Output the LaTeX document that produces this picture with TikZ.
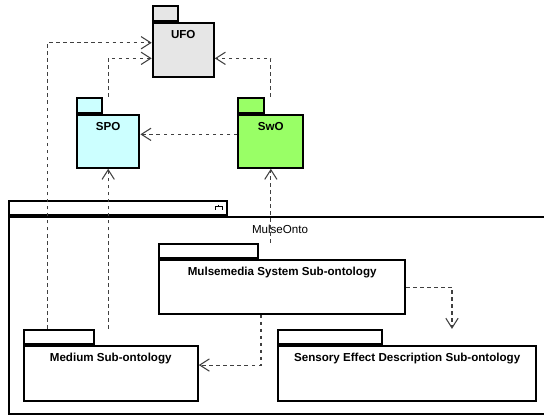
\documentclass[tikz,border=0pt]{standalone}
\usepackage{fontspec}
\setmainfont{Liberation Sans}
\usepackage{tikz}
\usetikzlibrary{arrows.meta}
\definecolor{ufogray}{RGB}{230,230,230}
\definecolor{spocyan}{RGB}{204,255,255}
\definecolor{swogreen}{RGB}{153,255,102}
\tikzset{
    pkg/.style={draw=black, line width=1.2pt, fill=white, inner sep=0pt, anchor=north west},
    pkgtab/.style={draw=black, line width=1.2pt, fill=white, inner sep=0pt, anchor=south west},
    pkgname/.style={font=\fontsize{6.6}{8}\selectfont\bfseries, inner sep=0pt},
    pkgtitle/.style={font=\fontsize{6.6}{8}\selectfont, inner sep=0pt},
    dep/.style={draw=black!75, line width=0.6pt, dash pattern=on 2pt off 2pt,
        -{Straight Barb[length=5.5pt,width=7pt]}}}

\begin{document}
\begin{tikzpicture}[x=0.02cm, y=0.02cm]
                \useasboundingbox (0,0) rectangle (544,415);

                    \node[pkg, minimum width=10.83cm, minimum height=3.934cm] (onto) at (8.3,199) {};
                    \node[pkgtab, minimum width=4.348cm, minimum height=0.274cm] (onto-tab) at (onto.north west) {};
                    \draw[line width=0.5pt] (onto-tab.north east) ++(-9,-4.4) -- ++(0,-2.3) ++(-3.4,0) -- ++(6.7,0) -- ++(0,-3.3) ++(-6.7,3.3) -- ++(0,-3.3);
                    \node[pkgtitle] (onto-name) at ([yshift=-0.26cm]onto.north) {MulseOnto};

                    \node[pkg, fill=ufogray, minimum width=1.22cm, minimum height=1.08cm] (ufo) at (151.7,393) {};
                    \node[pkgtab, fill=ufogray, minimum width=0.5cm, minimum height=0.306cm] (ufo-tab) at (ufo.north west) {};
                    \node[pkgname] (ufo-name) at ([yshift=-0.26cm]ufo.north) {UFO};

                    \node[pkg, fill=spocyan, minimum width=1.246cm, minimum height=1.06cm] (spo) at (76,301.3) {};
                    \node[pkgtab, fill=spocyan, minimum width=0.5cm, minimum height=0.294cm] (spo-tab) at (spo.north west) {};
                    \node[pkgname] (spo-name) at ([yshift=-0.26cm]spo.north) {SPO};

                    \node[pkg, fill=swogreen, minimum width=1.3cm, minimum height=1.06cm] (swo) at (237.3,301.3) {};
                    \node[pkgtab, fill=swogreen, minimum width=0.52cm, minimum height=0.294cm] (swo-tab) at (swo.north west) {};
                    \node[pkgname] (swo-name) at ([yshift=-0.26cm]swo.north) {SwO};

                    \node[pkg, minimum width=4.914cm, minimum height=1.068cm] (mulse) at (158.3,155.7) {};
                    \node[pkgtab, minimum width=1.968cm, minimum height=0.286cm] (mulse-tab) at (mulse.north west) {};
                    \node[pkgname] (mulse-name) at ([yshift=-0.26cm]mulse.north) {Mulsemedia System Sub-ontology};

                    \node[pkg, minimum width=3.48cm, minimum height=1.094cm] (medium) at (22.7,69.7) {};
                    \node[pkgtab, minimum width=1.412cm, minimum height=0.286cm] (medium-tab) at (medium.north west) {};
                    \node[pkgname] (medium-name) at ([yshift=-0.27cm]medium.north) {Medium Sub-ontology};

                    \node[pkg, minimum width=5.154cm, minimum height=1.094cm] (sensory) at (277.3,69.7) {};
                    \node[pkgtab, minimum width=2.068cm, minimum height=0.286cm] (sensory-tab) at (sensory.north west) {};
                    \node[pkgname] (sensory-name) at ([yshift=-0.27cm]sensory.north) {Sensory Effect Description Sub-ontology};

                    \draw[dep] ([xshift=0.492cm]medium-tab.north west) |- ([yshift=0.146cm]ufo.west);
                    \draw[dep] (medium-tab.north -| spo.south) -- (spo.south);
                    \draw[dep] (spo-tab.north -| spo.north) |- ([yshift=-0.166cm]ufo.west);
                    \draw[dep] (swo-tab.north -| swo.north) |- ([yshift=-0.166cm]ufo.east);
                    \draw[dep] ([yshift=0.138cm]swo.west) -- ([yshift=0.138cm]spo.east);
                    \draw[dep] (mulse-tab.north -| swo.south) -- (swo.south);
                    \draw[dep] ([xshift=-0.424cm]mulse.south) |- ([yshift=0.173cm]medium.east);
                    \draw[dep] (mulse.east) -| ([xshift=0.896cm]sensory-tab.north -| sensory.north);

                \end{tikzpicture}
\end{document}
